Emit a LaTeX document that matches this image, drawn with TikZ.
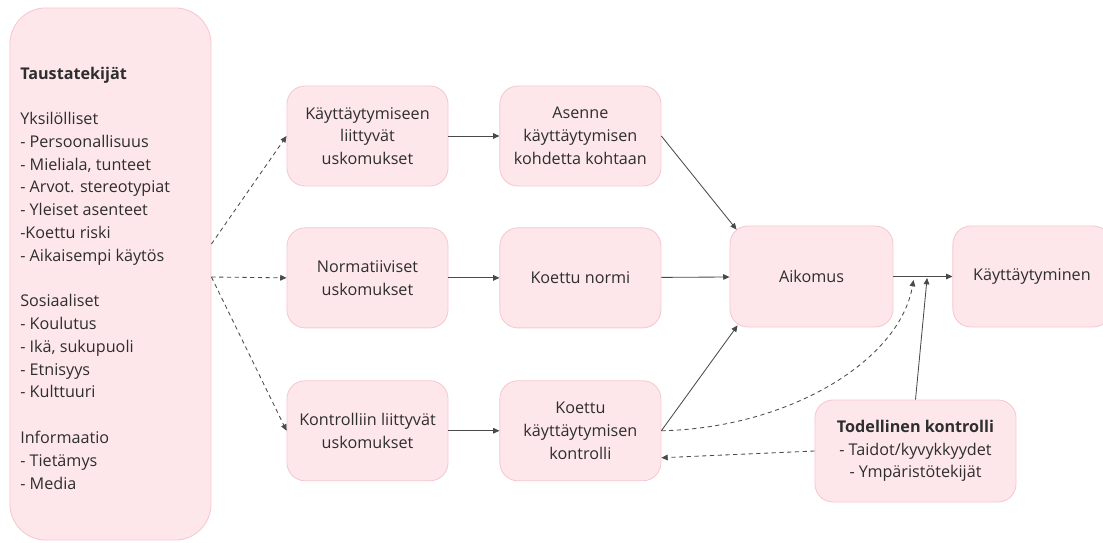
\documentclass[tikz,border=0pt]{standalone}
\usepackage{fontspec}
\setmainfont{Open Sans}
\usetikzlibrary{positioning, arrows.meta, calc}
\definecolor{boxfill}{HTML}{FDE7EB}
\definecolor{boxline}{HTML}{F5C8D0}
\definecolor{linegray}{HTML}{4A4A4A}
\definecolor{textgray}{HTML}{2E2E2E}

\begin{document}
\begin{tikzpicture}[x=0.025cm, y=-0.025cm, node distance={10mm}, font=\fontsize{11.5}{16.2}\selectfont, text=textgray,
        box/.style = {draw=boxline, fill=boxfill, line width=0.6pt, rounded corners=0.45cm, align=center, minimum width=4.025cm, minimum height=2.5cm}]
                \tikzstyle{solidarrow} = [draw=linegray, line width=0.6pt, -{Triangle[length=4.5pt, width=4pt]}]
                \tikzstyle{dasharrow} = [solidarrow, dash pattern=on 3pt off 2.5pt]

                \useasboundingbox (0,0) rectangle (1103,543);

                % Background factors (big box on the left)
                \node[box, minimum width=5.025cm, minimum height=13.3cm, rounded corners=0.9cm] (tausta) at (110.5,274) {};
                \node[anchor=west, align=left, inner sep=0pt] (taustatext) at (20,278) {\textbf{Taustatekijät}\\[16.2pt]
                    Yksilölliset\\ - Persoonallisuus\\ - Mieliala, tunteet\\ - Arvot. stereotypiat\\ - Yleiset asenteet\\ -Koettu riski\\ - Aikaisempi käytös\\[16.2pt]
                    Sosiaaliset\\ - Koulutus\\ - Ikä, sukupuoli\\ - Etnisyys\\ - Kulttuuri\\[16.2pt]
                    Informaatio\\ - Tietämys\\ - Media};

                % Beliefs (first column)
                \node[box] (b1) at (367.5,136) {Käyttäytymiseen\\ liittyvät\\ uskomukset};
                \node[box] (b2) [below=1.025cm of b1] {Normatiiviset\\ uskomukset};
                \node[box] (b3) [below=1.3cm of b2] {Kontrolliin liittyvät\\ uskomukset};

                % Attitude, norm, control (second column)
                \node[box] (a1) [right=1.275cm of b1] {Asenne\\ käyttäytymisen\\ kohdetta kohtaan};
                \node[box] (a2) [right=1.275cm of b2] {Koettu normi};
                \node[box] (a3) [right=1.275cm of b3] {Koettu\\ käyttäytymisen\\ kontrolli};

                % Intention and behaviour
                \node[box, minimum width=4.075cm, minimum height=2.525cm] (aikomus) at (811.5,276.5) {Aikomus};
                \node[box, minimum width=3.95cm, minimum height=2.525cm] (kay) [right=1.475cm of aikomus] {Käyttäytyminen};
                \node[box, minimum width=5.025cm, minimum height=2.55cm] (todellinen) at (915.5,451) {\textbf{Todellinen kontrolli}\\ - Taidot/kyvykkyydet\\ - Ympäristötekijät};

                \coordinate (from1) at ($(tausta.east)+(0,-30)$);
                \coordinate (from2) at ($(tausta.east)+(0,3)$);
                \coordinate (join) at ($(aikomus.east)!0.57!(kay.west)+(0,1.5)$);
                \coordinate (joinb) at ($(aikomus.east)!0.34!(kay.west)+(0,3.5)$);

                \draw[dasharrow] (from1) -- (b1.west);
                \draw[dasharrow] (from2) -- (b2.west);
                \draw[dasharrow] (from2) -- (b3.west);
                \draw[solidarrow] (b1) -- (a1);
                \draw[solidarrow] (b2) -- (a2);
                \draw[solidarrow] (b3) -- (a3);
                \draw[solidarrow] (a1.east) -- ($(aikomus.north west)+(7,4)$);
                \draw[solidarrow] (a2) -- (aikomus);
                \draw[solidarrow] (a3.east) -- ($(aikomus.south west)+(8,-2)$);
                \draw[solidarrow] (aikomus) -- (kay);
                \draw[solidarrow] (todellinen.north) -- (join);
                \draw[dasharrow] (a3.east) .. controls (790,428) and (900,360) .. (joinb);
                \draw[dasharrow] (todellinen.west) -- ($(a3.east)+(0,27)$);
            \end{tikzpicture}
\end{document}
